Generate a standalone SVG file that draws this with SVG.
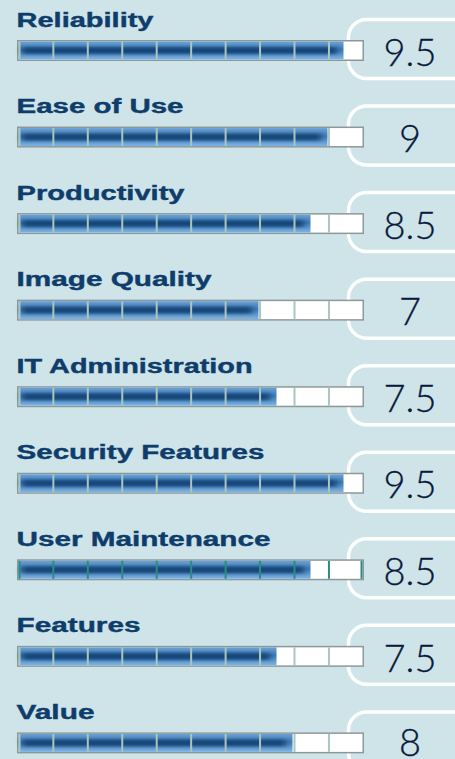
<svg xmlns="http://www.w3.org/2000/svg" xmlns:xlink="http://www.w3.org/1999/xlink" width="455" height="759" viewBox="0 0 455 759">
<style>
.lbl{font-family:"Liberation Sans",Arial,sans-serif;font-weight:700;font-size:20px;fill:#0f3d6b;stroke:#0f3d6b;stroke-width:0.4}
.score{font-family:Lato,"Open Sans","DejaVu Sans",sans-serif;font-weight:300;font-size:38px;fill:#0b1a3c;stroke:#0b1a3c;stroke-width:0.3;text-anchor:middle}
.box{fill:none;stroke:#ffffff;stroke-width:3.5}
.frame{fill:#ffffff;stroke:#8d9898;stroke-width:1.5}
.fill{fill:url(#base)}
.core{fill:#144679;filter:url(#soft)}
.div{stroke:#a9c6c0;stroke-width:2}
.divT{stroke:#2b8c84;stroke-width:2}
</style>
<defs>
<linearGradient id="base" x1="0" y1="0" x2="0" y2="1">
<stop offset="0" stop-color="#6aa2d6"/>
<stop offset="0.45" stop-color="#3f7ab4"/>
<stop offset="1" stop-color="#7db4e6"/>
</linearGradient>
<filter id="soft" x="-0.1" y="-1" width="1.2" height="3">
<feGaussianBlur stdDeviation="3 1.6"/>
</filter>
<g id="divs">
<line class="div" x1="19.5" y1="1.5" x2="19.5" y2="19.5"/>
<line class="div" x1="53.35" y1="1.5" x2="53.35" y2="19.5"/>
<line class="div" x1="87.8" y1="1.5" x2="87.8" y2="19.5"/>
<line class="div" x1="122.25" y1="1.5" x2="122.25" y2="19.5"/>
<line class="div" x1="156.7" y1="1.5" x2="156.7" y2="19.5"/>
<line class="div" x1="191.15" y1="1.5" x2="191.15" y2="19.5"/>
<line class="div" x1="225.6" y1="1.5" x2="225.6" y2="19.5"/>
<line class="div" x1="260.05" y1="1.5" x2="260.05" y2="19.5"/>
<line class="div" x1="294.5" y1="1.5" x2="294.5" y2="19.5"/>
<line class="div" x1="328.95" y1="1.5" x2="328.95" y2="19.5"/>
</g>
<g id="divsT">
<line class="divT" x1="19.5" y1="1.5" x2="19.5" y2="19.5"/>
<line class="divT" x1="53.35" y1="1.5" x2="53.35" y2="19.5"/>
<line class="divT" x1="87.8" y1="1.5" x2="87.8" y2="19.5"/>
<line class="divT" x1="122.25" y1="1.5" x2="122.25" y2="19.5"/>
<line class="divT" x1="156.7" y1="1.5" x2="156.7" y2="19.5"/>
<line class="divT" x1="191.15" y1="1.5" x2="191.15" y2="19.5"/>
<line class="divT" x1="225.6" y1="1.5" x2="225.6" y2="19.5"/>
<line class="divT" x1="260.05" y1="1.5" x2="260.05" y2="19.5"/>
<line class="divT" x1="294.5" y1="1.5" x2="294.5" y2="19.5"/>
<line class="divT" x1="328.95" y1="1.5" x2="328.95" y2="19.5"/>
<line class="divT" x1="361.5" y1="1.5" x2="361.5" y2="19.5"/>
</g>
</defs>
<rect x="0" y="0" width="455" height="759" fill="#cee4e8"/>

<g id="reliability" transform="translate(0,40)">
<rect class="box" x="348.5" y="-20.5" width="140" height="59" rx="18"/>
<text class="lbl" x="16.5" y="-13.5" textLength="137" lengthAdjust="spacingAndGlyphs">Reliability</text>
<rect class="frame" x="17.75" y="0.75" width="345.5" height="19.5"/>
<rect class="fill" x="18.5" y="1.5" width="325" height="18"/>
<rect class="core" x="22" y="7" width="315" height="7"/>
<use xlink:href="#divs"/>
<text class="score" x="410" y="25.7">9.5</text>
</g>

<g id="ease-of-use" transform="translate(0,126.55)">
<rect class="box" x="348.5" y="-20.5" width="140" height="59" rx="18"/>
<text class="lbl" x="16.5" y="-13.5" textLength="167" lengthAdjust="spacingAndGlyphs">Ease of Use</text>
<rect class="frame" x="17.75" y="0.75" width="345.5" height="19.5"/>
<rect class="fill" x="18.5" y="1.5" width="309" height="18"/>
<rect class="core" x="22" y="7" width="299" height="7"/>
<use xlink:href="#divs"/>
<text class="score" x="410" y="25.7">9</text>
</g>

<g id="productivity" transform="translate(0,213.1)">
<rect class="box" x="348.5" y="-20.5" width="140" height="59" rx="18"/>
<text class="lbl" x="16.5" y="-13.5" textLength="168" lengthAdjust="spacingAndGlyphs">Productivity</text>
<rect class="frame" x="17.75" y="0.75" width="345.5" height="19.5"/>
<rect class="fill" x="18.5" y="1.5" width="292" height="18"/>
<rect class="core" x="22" y="7" width="282" height="7"/>
<use xlink:href="#divs"/>
<text class="score" x="410" y="25.7">8.5</text>
</g>

<g id="image-quality" transform="translate(0,299.65)">
<rect class="box" x="348.5" y="-20.5" width="140" height="59" rx="18"/>
<text class="lbl" x="16.5" y="-13.5" textLength="195" lengthAdjust="spacingAndGlyphs">Image Quality</text>
<rect class="frame" x="17.75" y="0.75" width="345.5" height="19.5"/>
<rect class="fill" x="18.5" y="1.5" width="240" height="18"/>
<rect class="core" x="22" y="7" width="230" height="7"/>
<use xlink:href="#divs"/>
<text class="score" x="410" y="25.7">7</text>
</g>

<g id="it-administration" transform="translate(0,386.2)">
<rect class="box" x="348.5" y="-20.5" width="140" height="59" rx="18"/>
<text class="lbl" x="16.5" y="-13.5" textLength="236" lengthAdjust="spacingAndGlyphs">IT Administration</text>
<rect class="frame" x="17.75" y="0.75" width="345.5" height="19.5"/>
<rect class="fill" x="18.5" y="1.5" width="258" height="18"/>
<rect class="core" x="22" y="7" width="248" height="7"/>
<use xlink:href="#divs"/>
<text class="score" x="410" y="25.7">7.5</text>
</g>

<g id="security-features" transform="translate(0,472.75)">
<rect class="box" x="348.5" y="-20.5" width="140" height="59" rx="18"/>
<text class="lbl" x="16.5" y="-13.5" textLength="248" lengthAdjust="spacingAndGlyphs">Security Features</text>
<rect class="frame" x="17.75" y="0.75" width="345.5" height="19.5"/>
<rect class="fill" x="18.5" y="1.5" width="325" height="18"/>
<rect class="core" x="22" y="7" width="315" height="7"/>
<use xlink:href="#divs"/>
<text class="score" x="410" y="25.7">9.5</text>
</g>

<g id="user-maintenance" transform="translate(0,559.3)">
<rect class="box" x="348.5" y="-20.5" width="140" height="59" rx="18"/>
<text class="lbl" x="16.5" y="-13.5" textLength="254" lengthAdjust="spacingAndGlyphs">User Maintenance</text>
<rect class="frame" x="17.75" y="0.75" width="345.5" height="19.5"/>
<rect class="fill" x="18.5" y="1.5" width="292" height="18"/>
<rect class="core" x="22" y="7" width="282" height="7"/>
<use xlink:href="#divsT"/>
<text class="score" x="410" y="25.7">8.5</text>
</g>

<g id="features" transform="translate(0,645.85)">
<rect class="box" x="348.5" y="-20.5" width="140" height="59" rx="18"/>
<text class="lbl" x="16.5" y="-13.5" textLength="124" lengthAdjust="spacingAndGlyphs">Features</text>
<rect class="frame" x="17.75" y="0.75" width="345.5" height="19.5"/>
<rect class="fill" x="18.5" y="1.5" width="258" height="18"/>
<rect class="core" x="22" y="7" width="248" height="7"/>
<use xlink:href="#divs"/>
<text class="score" x="410" y="25.7">7.5</text>
</g>

<g id="value" transform="translate(0,732.4)">
<rect class="box" x="348.5" y="-20.5" width="140" height="59" rx="18"/>
<text class="lbl" x="16.5" y="-13.5" textLength="78" lengthAdjust="spacingAndGlyphs">Value</text>
<rect class="frame" x="17.75" y="0.75" width="345.5" height="19.5"/>
<rect class="fill" x="18.5" y="1.5" width="274" height="18"/>
<rect class="core" x="22" y="7" width="264" height="7"/>
<use xlink:href="#divs"/>
<text class="score" x="410" y="23.5">8</text>
</g>
</svg>
